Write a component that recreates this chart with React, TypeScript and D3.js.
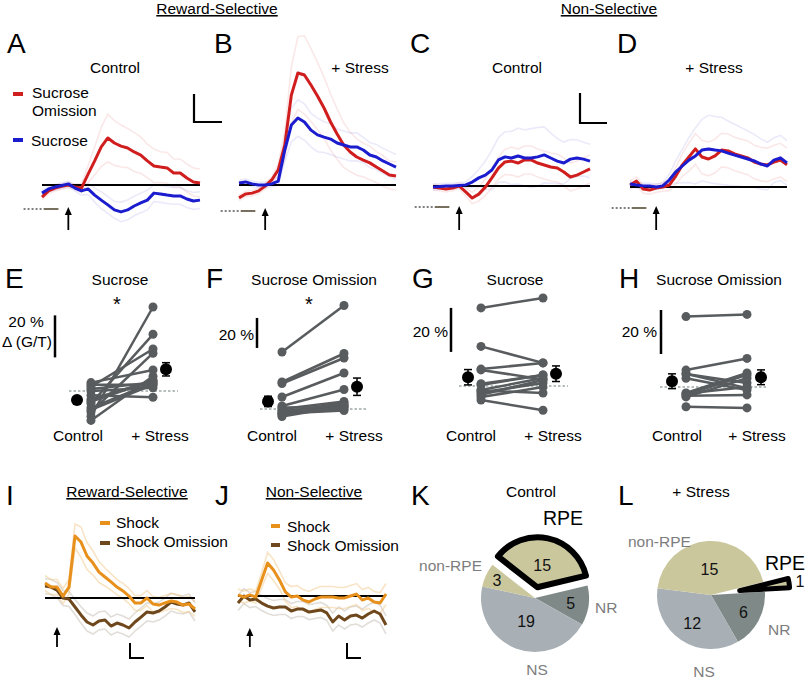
import React from "react";
import * as d3 from "d3";

const FONT = "'Liberation Sans', Arial, Helvetica, sans-serif";

// ---------------- Top row: photometry traces (%ΔF units) ----------------
const timeTop = [-2, -1.5, -1, -0.5, 0, 0.5, 1, 1.5, 2, 2.5, 3, 3.5, 4, 4.5, 5, 5.5, 6, 6.5, 7, 7.5, 8, 8.5, 9, 9.5, 10];
const rsCtrlOmission = [-4.3, -2.1, -1.1, -0.5, 0, -0.7, -1.1, 3.9, 8.6, 13.6, 16.8, 15, 13.9, 13.2, 11.8, 10.7, 8.6, 6.8, 6.4, 6.1, 4.3, 4.3, 2.5, 1.1, 0.7];
const rsCtrlSucrose = [-2.9, -1.4, -0.7, -0.2, 0.4, -1.1, -2.1, -1.4, -3.6, -5.4, -7.1, -8.9, -9.6, -8.9, -7.5, -6.4, -5.4, -2.9, -3.2, -3.6, -3.9, -3.9, -5, -5.7, -5.4];
const rsStressOmission = [-4.6, -3.2, -2.9, -2.1, -0.4, 1.8, 5.4, 14.3, 32.1, 40, 39.3, 35.7, 31.8, 27.5, 22.5, 18.2, 14.3, 11.8, 10, 8.9, 7.9, 6.4, 5, 3.6, 3.2];
const rsStressSucrose = [0.7, 1.1, 0.4, 0, 0, 0.4, 1.4, 12.5, 21.4, 23.9, 22.5, 19.6, 17.9, 17.1, 16.4, 15, 14.3, 13.6, 13.6, 12.5, 10.7, 10, 8.6, 7.5, 6.4];
const nsCtrlOmission = [-0.4, -0.7, -1.1, -0.7, 0, -2.1, -4.3, -2.9, -0.4, 2.9, 6.4, 8.6, 8.9, 8.2, 9.3, 9.3, 8.2, 7.5, 6.8, 6.4, 5, 3.2, 3.9, 5, 6.1];
const nsCtrlSucrose = [-0.4, -0.2, 0, 0, 0.2, 0.4, 1.4, 2.9, 3.9, 5.7, 9.3, 10.4, 10, 10.7, 10, 10, 10.4, 11.1, 10, 8.9, 8.2, 9.6, 10, 9.6, 8.9];
const nsStressOmission = [0.7, 2.1, -0.7, -1.1, -0.4, 0, 0.7, 3.9, 7.9, 10.7, 13.6, 10.7, 10, 11.1, 13.2, 12.9, 11.8, 11.1, 10.4, 8.9, 8.2, 7.9, 8.9, 9.6, 7.9];
const nsStressSucrose = [1.1, 0.7, 0.4, 0.4, 0, 0.4, 2.5, 5.4, 7.5, 9.6, 11.1, 13.2, 13.6, 13.2, 12.9, 12.1, 11.4, 10.7, 10, 9.3, 8.2, 7.5, 9.6, 10.4, 8.6];

const semRsCtrlOmission = [1, 1, 1, 1, 1, 1, 1.5, 3, 5, 7, 8.5, 8, 7.5, 7, 7, 6.5, 6, 6, 5.5, 5.5, 5, 5, 5, 5, 5];
const semRsCtrlSucrose = [1, 1, 1, 1, 1, 1, 1.5, 2, 2.5, 3, 3, 3, 3.5, 3.5, 3.5, 3.5, 3.5, 3, 3, 3, 3, 3, 3, 3, 3];
const semRsStressOmission = [1, 1, 1, 1, 1, 1, 2, 5, 10, 13, 14, 13, 12, 11, 10, 9, 8, 7, 6.5, 6, 6, 5.5, 5.5, 5, 5];
const semRsStressSucrose = [1, 1, 1, 1, 1, 1, 1.5, 4, 6, 6.5, 6.5, 6, 6, 5.5, 5.5, 5, 5, 5, 5, 4.5, 4.5, 4.5, 4.5, 4.5, 4.5];
const semNsCtrlOmission = [1, 1, 1, 1, 1, 1.5, 2, 2.5, 3, 3.5, 4, 4.5, 5, 5, 5, 5, 5, 5, 5, 5, 5, 5, 5, 5, 5];
const semNsCtrlSucrose = [1, 1, 1, 1, 1, 1, 2, 3, 5, 7, 8, 9, 9.5, 10, 10, 10.5, 10.5, 10, 9, 8, 7.5, 7, 6.5, 6, 6];
const semNsStressOmission = [1.5, 1.5, 1.5, 1.5, 1.5, 1.5, 2, 3, 4, 5, 5.5, 6, 6, 6, 6, 6, 6, 6, 6, 6, 6, 6, 6, 6, 6];
const semNsStressSucrose = [1, 1, 1, 1, 1, 1, 2, 4, 6, 8, 10, 11, 12, 12, 12, 11.5, 11, 10.5, 10, 9.5, 9, 8.5, 8, 8, 8];

// ---------------- Bottom row: shock traces ----------------
const timeShock = [-1, -0.5, 0, 0.5, 1, 1.5, 2, 2.5, 3, 3.5, 4, 4.5, 5, 5.5, 6, 6.5, 7, 7.5, 8, 8.5, 9, 9.5, 10, 10.5, 11, 11.5];
const rsShock = [10, 7.3, 7.3, 1.3, 7.3, 41.3, 37.3, 28, 23.3, 17.3, 14, 10.7, 7.3, 4.7, 1.3, -3.3, -3.3, 0, -4, -4.7, -3.3, -2, -2.7, -4.7, -4, -7.3];
const rsShockOmission = [8, 7.3, 5.3, 0, -0.7, -6, -11.3, -16, -18, -15.3, -14.7, -18.7, -16.7, -18, -20, -16, -12.7, -9.3, -10, -8.7, -6, -2.7, -4, -4.7, -3.3, -9.3];
const nsShock = [0.7, -0.7, 0.7, -0.7, 10.7, 22, 17.3, 10.7, 2.7, -0.7, 0, -2.7, -4, -2, -0.7, -0.7, -0.7, -1.3, -1.3, 0, 1.3, -2.7, -1.3, -4, -4.7, 1.3];
const nsShockOmission = [-4.7, 0, -2.7, -2, -4.7, -6.7, -8, -7.3, -7.3, -10, -8.7, -8.7, -10.7, -10, -9.3, -11.3, -17.3, -13.3, -16, -13.3, -12.7, -14.7, -12, -10, -12, -19.3];
const semRsShock = [5, 5, 5, 5, 5, 8, 10, 9, 8, 7, 6, 5.5, 5, 5, 5, 5, 5, 5, 5, 5, 5, 5, 5, 5, 5, 5];
const semRsShockOmission = [5, 5, 5, 5, 5, 5, 5.5, 6, 6, 6, 6, 6, 6, 6, 6, 6, 6, 6, 6, 6, 6, 6, 6, 6, 6, 6];
const semNsShock = [4, 4, 4, 4, 5, 7, 7, 6, 6, 7, 7, 7, 7, 7, 7, 7, 7, 7, 7, 7, 7, 7, 7, 7, 7, 7];
const semNsShockOmission = [5, 5, 5, 5, 5, 5, 5, 5, 5, 5, 5, 5, 5, 5, 5, 5, 6, 6, 6, 6, 6, 6, 6, 6, 6, 6];

// ---------------- Paired plots (% Δ G/T) ----------------
const eControl = [-12, -6, 2, -10, 4, -14, -4, -8, 3, 0, -2, -5, -9, 1];
const eStress = [40, 27, 20, 18, 10, 7, 5, 4, 3, 1.5, -3, 5, 3, 4];
const fControl = [38, 18, 17, 8, 2, 0, -2, -3, -4, 1, -1, -3, -5];
const fStress = [69, 37, 34, 24, 13, 5, 4, 3, 2, 1, 0, -1, 2];
const gControl = [35.5, 18, 7.7, 7.3, -6.4, 0.5, -1.8, -4, -3, -5, -2, 1];
const gStress = [40, 10.5, 10.5, 3, -11, 5, 3.6, 2.7, 1.4, -0.5, -3.2, 5];
const hControl = [32, 7.7, 5.9, 4, -2.7, -3.6, -4.5, -3, -4, -9, 6];
const hStress = [33, 13, 1.8, -1.4, 6.4, 5.5, 4, 0, -3.6, -9.5, -0.5];

// ---------------- Pies ----------------
const pieCategories = ["RPE", "NR", "NS", "non-RPE"];
const pieControl = [15, 5, 19, 3];
const pieStress = [1, 6, 12, 15];

const RED = "#d01e1e";
const BLUE = "#1c1ccf";
const ORANGE = "#e8901c";
const BROWN = "#6e481c";
const DOT = "#585c5e";
const PIE_COLORS: Record<string, string> = { RPE: "#cbc79d", "non-RPE": "#cbc79d", NS: "#a8b0b5", NR: "#7f8a88" };

type Series = { values: number[]; sem: number[]; color: string; faint: string; faintOpacity: number };

function Arrow({ x, tip, bottom }: { x: number; tip: number; bottom: number }) {
  return (
    <g>
      <line x1={x} x2={x} y1={tip + 5} y2={bottom} stroke="#000" strokeWidth={1.8} />
      <path d={`M${x},${tip} L${x - 3.5},${tip + 8} L${x + 3.5},${tip + 8} Z`} fill="#000" />
    </g>
  );
}

function TracePanel({ x0, x1, base, k, time, series, arrow, cue }: {
  x0: number; x1: number; base: number; k: number; time: number[]; series: Series[];
  arrow: { tip: number; bottom: number }; cue?: { y: number };
}) {
  const x = d3.scaleLinear().domain([time[0], time[time.length - 1]]).range([x0, x1]);
  const y = d3.scaleLinear().domain([0, 10]).range([base, base - 10 * k]);
  const gen = d3.line<number>().x((_, i) => x(time[i])).y((d) => y(d));
  return (
    <g>
      {series.map((s, si) => (
        <g key={"f" + si}>
          <path d={gen(s.values.map((v, i) => v + s.sem[i])) || ""} fill="none" stroke={s.faint} strokeOpacity={s.faintOpacity} strokeWidth={1.6} />
          <path d={gen(s.values.map((v, i) => v - s.sem[i])) || ""} fill="none" stroke={s.faint} strokeOpacity={s.faintOpacity} strokeWidth={1.6} />
        </g>
      ))}
      <line x1={x0} x2={x1} y1={y(0)} y2={y(0)} stroke="#000" strokeWidth={2} />
      {series.map((s, si) => (
        <path key={"m" + si} d={gen(s.values) || ""} fill="none" stroke={s.color} strokeWidth={3} strokeLinejoin="round" />
      ))}
      <Arrow x={x(0)} tip={arrow.tip} bottom={arrow.bottom} />
      {cue && (
        <g>
          <line x1={x(-3.4)} x2={x(-1.85)} y1={cue.y} y2={cue.y} stroke="#555" strokeWidth={1.6} strokeDasharray="2,2" />
          <line x1={x(-1.85)} x2={x(-0.75)} y1={cue.y} y2={cue.y} stroke="#77705f" strokeWidth={2} />
        </g>
      )}
    </g>
  );
}

function PairedPanel({ ctrl, stress, xc, xs, xmc, xms, zeroY, pxPer, dotted, sbX, sbFrom }: {
  ctrl: number[]; stress: number[]; xc: number; xs: number; xmc: number; xms: number; zeroY: number; pxPer: number;
  dotted: [number, number]; sbX: number; sbFrom: number;
}) {
  const y = d3.scaleLinear().domain([0, 20]).range([zeroY, zeroY - 20 * pxPer]);
  const stat = (a: number[]) => {
    const m = d3.mean(a) as number;
    const se = (d3.deviation(a) as number) / Math.sqrt(a.length);
    return { m, se };
  };
  const sc = stat(ctrl);
  const ss = stat(stress);
  const MeanMark = ({ x, s }: { x: number; s: { m: number; se: number } }) => (
    <g>
      <line x1={x} x2={x} y1={y(s.m + s.se)} y2={y(s.m - s.se)} stroke="#000" strokeWidth={1.5} />
      <line x1={x - 4} x2={x + 4} y1={y(s.m + s.se)} y2={y(s.m + s.se)} stroke="#000" strokeWidth={1.5} />
      <line x1={x - 4} x2={x + 4} y1={y(s.m - s.se)} y2={y(s.m - s.se)} stroke="#000" strokeWidth={1.5} />
      <circle cx={x} cy={y(s.m)} r={6} fill="#000" />
    </g>
  );
  return (
    <g>
      <line x1={dotted[0]} x2={dotted[1]} y1={y(0)} y2={y(0)} stroke="#9fa9a7" strokeWidth={1.6} strokeDasharray="2.5,2" />
      {ctrl.map((c, i) => (
        <line key={"l" + i} x1={xc} x2={xs} y1={y(c)} y2={y(stress[i])} stroke={DOT} strokeWidth={2.5} />
      ))}
      {ctrl.map((c, i) => (
        <g key={"d" + i}>
          <circle cx={xc} cy={y(c)} r={4.5} fill={DOT} />
          <circle cx={xs} cy={y(stress[i])} r={4.5} fill={DOT} />
        </g>
      ))}
      <MeanMark x={xmc} s={sc} />
      <MeanMark x={xms} s={ss} />
      <line x1={sbX} x2={sbX} y1={y(sbFrom)} y2={y(sbFrom + 20)} stroke="#000" strokeWidth={2.5} />
    </g>
  );
}

function PieChart({ cx, cy, r, values, startDeg, explodeDist, explodeR, strokeW, labelR }: {
  cx: number; cy: number; r: number; values: number[]; startDeg: number; explodeDist: number; explodeR: number;
  strokeW: number; labelR: number[];
}) {
  const start = (startDeg * Math.PI) / 180;
  const arcs = d3.pie<number>().sort(null).startAngle(start).endAngle(start + 2 * Math.PI)(values);
  const arc = d3.arc<d3.PieArcDatum<number>>().innerRadius(0).outerRadius(r);
  const arcEx = d3.arc<d3.PieArcDatum<number>>().innerRadius(0).outerRadius(explodeR);
  return (
    <g transform={`translate(${cx},${cy})`}>
      {arcs.map((a, i) => {
        const cat = pieCategories[i];
        if (cat === "RPE") return null;
        return <path key={i} d={arc(a) || ""} fill={PIE_COLORS[cat]} />;
      })}
      {arcs.map((a, i) => {
        const cat = pieCategories[i];
        const mid = (a.startAngle + a.endAngle) / 2;
        const off = cat === "RPE" ? explodeDist : 0;
        const ox = Math.sin(mid) * off;
        const oy = -Math.cos(mid) * off;
        const lx = ox + Math.sin(mid) * labelR[i];
        const ly = oy - Math.cos(mid) * labelR[i];
        return (
          <g key={"t" + i}>
            {cat === "RPE" && (
              <path transform={`translate(${ox},${oy})`} d={arcEx(a) || ""} fill={PIE_COLORS[cat]} stroke="#000" strokeWidth={strokeW} strokeLinejoin="round" />
            )}
            <text x={lx} y={ly} dy="0.36em" textAnchor="middle" fontSize={16} fontFamily={FONT} fill="#111">{a.data}</text>
          </g>
        );
      })}
    </g>
  );
}

export default function App() {
  const T = (props: any) => <text fontFamily={FONT} fontSize={15.5} fill="#000" {...props} />;
  const Letter = (props: any) => <text fontFamily={FONT} fontSize={28} fill="#000" {...props} />;

  const topK = 2.8;
  const faintRed = "#d02020";
  const faintBlue = "#3030d0";

  return (
    <svg width={807} height={680} style={{ position: "absolute", left: 0, top: 0, background: "#fff" }}>
      {/* headers */}
      <T x={217} y={14} textAnchor="middle" style={{ textDecoration: "underline" }}>Reward-Selective</T>
      <T x={609} y={14} textAnchor="middle" style={{ textDecoration: "underline" }}>Non-Selective</T>

      <Letter x={7} y={53}>A</Letter>
      <Letter x={214} y={53}>B</Letter>
      <Letter x={410} y={53}>C</Letter>
      <Letter x={617} y={53}>D</Letter>
      <T x={115} y={73} textAnchor="middle">Control</T>
      <T x={360} y={73} textAnchor="middle">+ Stress</T>
      <T x={517} y={73} textAnchor="middle">Control</T>
      <T x={714} y={73} textAnchor="middle">+ Stress</T>

      {/* legend A */}
      <line x1={13} x2={23} y1={94} y2={94} stroke={RED} strokeWidth={4} />
      <T x={32} y={98}>Sucrose</T>
      <T x={32} y={116}>Omission</T>
      <line x1={13} x2={23} y1={140} y2={140} stroke={BLUE} strokeWidth={4} />
      <T x={31} y={146}>Sucrose</T>

      {/* scale bars top */}
      <path d="M194,94 L194,122 L222,122" fill="none" stroke="#000" strokeWidth={2.2} />
      <path d="M580,93 L580,123 L607,123" fill="none" stroke="#000" strokeWidth={2.2} />

      <TracePanel x0={42} x1={200} base={185} k={topK} time={timeTop} arrow={{ tip: 207, bottom: 230 }} cue={{ y: 209 }}
        series={[
          { values: rsCtrlOmission, sem: semRsCtrlOmission, color: RED, faint: faintRed, faintOpacity: 0.1 },
          { values: rsCtrlSucrose, sem: semRsCtrlSucrose, color: BLUE, faint: faintBlue, faintOpacity: 0.1 },
        ]} />
      <TracePanel x0={239} x1={396} base={185} k={topK} time={timeTop} arrow={{ tip: 208, bottom: 230 }} cue={{ y: 211 }}
        series={[
          { values: rsStressOmission, sem: semRsStressOmission, color: RED, faint: faintRed, faintOpacity: 0.1 },
          { values: rsStressSucrose, sem: semRsStressSucrose, color: BLUE, faint: faintBlue, faintOpacity: 0.1 },
        ]} />
      <TracePanel x0={433} x1={590} base={186} k={topK} time={timeTop} arrow={{ tip: 206, bottom: 230 }} cue={{ y: 207 }}
        series={[
          { values: nsCtrlOmission, sem: semNsCtrlOmission, color: RED, faint: faintRed, faintOpacity: 0.1 },
          { values: nsCtrlSucrose, sem: semNsCtrlSucrose, color: BLUE, faint: faintBlue, faintOpacity: 0.1 },
        ]} />
      <TracePanel x0={630} x1={787} base={187} k={topK} time={timeTop} arrow={{ tip: 206, bottom: 230 }} cue={{ y: 208 }}
        series={[
          { values: nsStressOmission, sem: semNsStressOmission, color: RED, faint: faintRed, faintOpacity: 0.1 },
          { values: nsStressSucrose, sem: semNsStressSucrose, color: BLUE, faint: faintBlue, faintOpacity: 0.1 },
        ]} />

      {/* Middle row */}
      <Letter x={5} y={288}>E</Letter>
      <Letter x={206} y={288}>F</Letter>
      <Letter x={412} y={288}>G</Letter>
      <Letter x={619} y={288}>H</Letter>
      <T x={120} y={285} textAnchor="middle">Sucrose</T>
      <T x={314} y={285} textAnchor="middle">Sucrose Omission</T>
      <T x={515} y={285} textAnchor="middle">Sucrose</T>
      <T x={719} y={285} textAnchor="middle">Sucrose Omission</T>
      <text x={117} y={311} textAnchor="middle" fontFamily={FONT} fontSize={20}>*</text>
      <text x={309} y={311} textAnchor="middle" fontFamily={FONT} fontSize={20}>*</text>

      <T x={26} y={327} textAnchor="middle">20 %</T>
      <T x={27} y={347} textAnchor="middle">Δ (G/T)</T>
      <T x={254} y={340} textAnchor="end">20 %</T>
      <T x={448} y={337} textAnchor="end">20 %</T>
      <T x={657} y={337} textAnchor="end">20 %</T>

      <PairedPanel ctrl={eControl} stress={eStress} xc={91} xs={153} xmc={77} xms={166} zeroY={391} pxPer={2.1} dotted={[69, 178]} sbX={55} sbFrom={16} />
      <PairedPanel ctrl={fControl} stress={fStress} xc={282} xs={344} xmc={268} xms={357} zeroY={409} pxPer={1.5} dotted={[260, 368]} sbX={257} sbFrom={40.7} />
      <PairedPanel ctrl={gControl} stress={gStress} xc={481} xs={543} xmc={468} xms={556} zeroY={386} pxPer={2.2} dotted={[459, 568]} sbX={451} sbFrom={15.5} />
      <PairedPanel ctrl={hControl} stress={hStress} xc={686} xs={747} xmc={672} xms={761} zeroY={387} pxPer={2.2} dotted={[660, 768]} sbX={661} sbFrom={15} />

      {[[78, 160], [272, 354], [471, 553], [677, 757]].map(([c, s], i) => (
        <g key={"xl" + i}>
          <T x={c} y={441} textAnchor="middle">Control</T>
          <T x={s} y={441} textAnchor="middle">+ Stress</T>
        </g>
      ))}

      {/* Bottom row */}
      <Letter x={6} y={505}>I</Letter>
      <Letter x={215} y={505}>J</Letter>
      <Letter x={411} y={505}>K</Letter>
      <Letter x={618} y={505}>L</Letter>
      <T x={127} y={497} textAnchor="middle" style={{ textDecoration: "underline" }}>Reward-Selective</T>
      <T x={314} y={497} textAnchor="middle" style={{ textDecoration: "underline" }}>Non-Selective</T>

      <line x1={100} x2={110} y1={523} y2={523} stroke={ORANGE} strokeWidth={4} />
      <T x={116} y={528}>Shock</T>
      <line x1={100} x2={110} y1={543} y2={543} stroke={BROWN} strokeWidth={4} />
      <T x={116} y={547}>Shock Omission</T>
      <line x1={271} x2={280} y1={526} y2={526} stroke={ORANGE} strokeWidth={4} />
      <T x={287} y={532}>Shock</T>
      <line x1={271} x2={280} y1={545} y2={545} stroke={BROWN} strokeWidth={4} />
      <T x={287} y={551}>Shock Omission</T>

      <TracePanel x0={45} x1={195} base={598} k={1.5} time={timeShock} arrow={{ tip: 627, bottom: 647 }}
        series={[
          { values: rsShockOmission, sem: semRsShockOmission, color: BROWN, faint: "#bdb3a8", faintOpacity: 0.45 },
          { values: rsShock, sem: semRsShock, color: ORANGE, faint: "#f0c37e", faintOpacity: 0.45 },
        ]} />
      <TracePanel x0={238} x1={386} base={596} k={1.5} time={timeShock} arrow={{ tip: 628, bottom: 647 }}
        series={[
          { values: nsShockOmission, sem: semNsShockOmission, color: BROWN, faint: "#bdb3a8", faintOpacity: 0.45 },
          { values: nsShock, sem: semNsShock, color: ORANGE, faint: "#f0c37e", faintOpacity: 0.45 },
        ]} />
      <path d="M130,643 L130,658 L144,658" fill="none" stroke="#000" strokeWidth={2} />
      <path d="M347,643 L347,658 L361,658" fill="none" stroke="#000" strokeWidth={2} />

      {/* Pies */}
      <T x={531} y={497} textAnchor="middle">Control</T>
      <T x={701} y={497} textAnchor="middle">+ Stress</T>

      <PieChart cx={535} cy={598} r={54} values={pieControl} startDeg={-52} explodeDist={11} explodeR={50} strokeW={6}
        labelR={[23, 36, 25, 42]} />
      <PieChart cx={711} cy={595} r={54} values={pieStress} startDeg={76} explodeDist={29} explodeR={50} strokeW={5}
        labelR={[61, 37, 34, 26]} />

      <text x={563} y={525} textAnchor="middle" fontFamily={FONT} fontSize={19.5}>RPE</text>
      <T x={482} y={571} textAnchor="end" fill="#7d7d7d">non-RPE</T>
      <T x={595} y={613} fill="#7d7d7d">NR</T>
      <T x={537} y={675} textAnchor="middle" fill="#7d7d7d">NS</T>

      <T x={628} y={547} fill="#7d7d7d">non-RPE</T>
      <text x={765} y={570} fontFamily={FONT} fontSize={19.5}>RPE</text>
      <T x={768} y={635} fill="#7d7d7d">NR</T>
      <T x={704} y={677} textAnchor="middle" fill="#7d7d7d">NS</T>
    </svg>
  );
}
